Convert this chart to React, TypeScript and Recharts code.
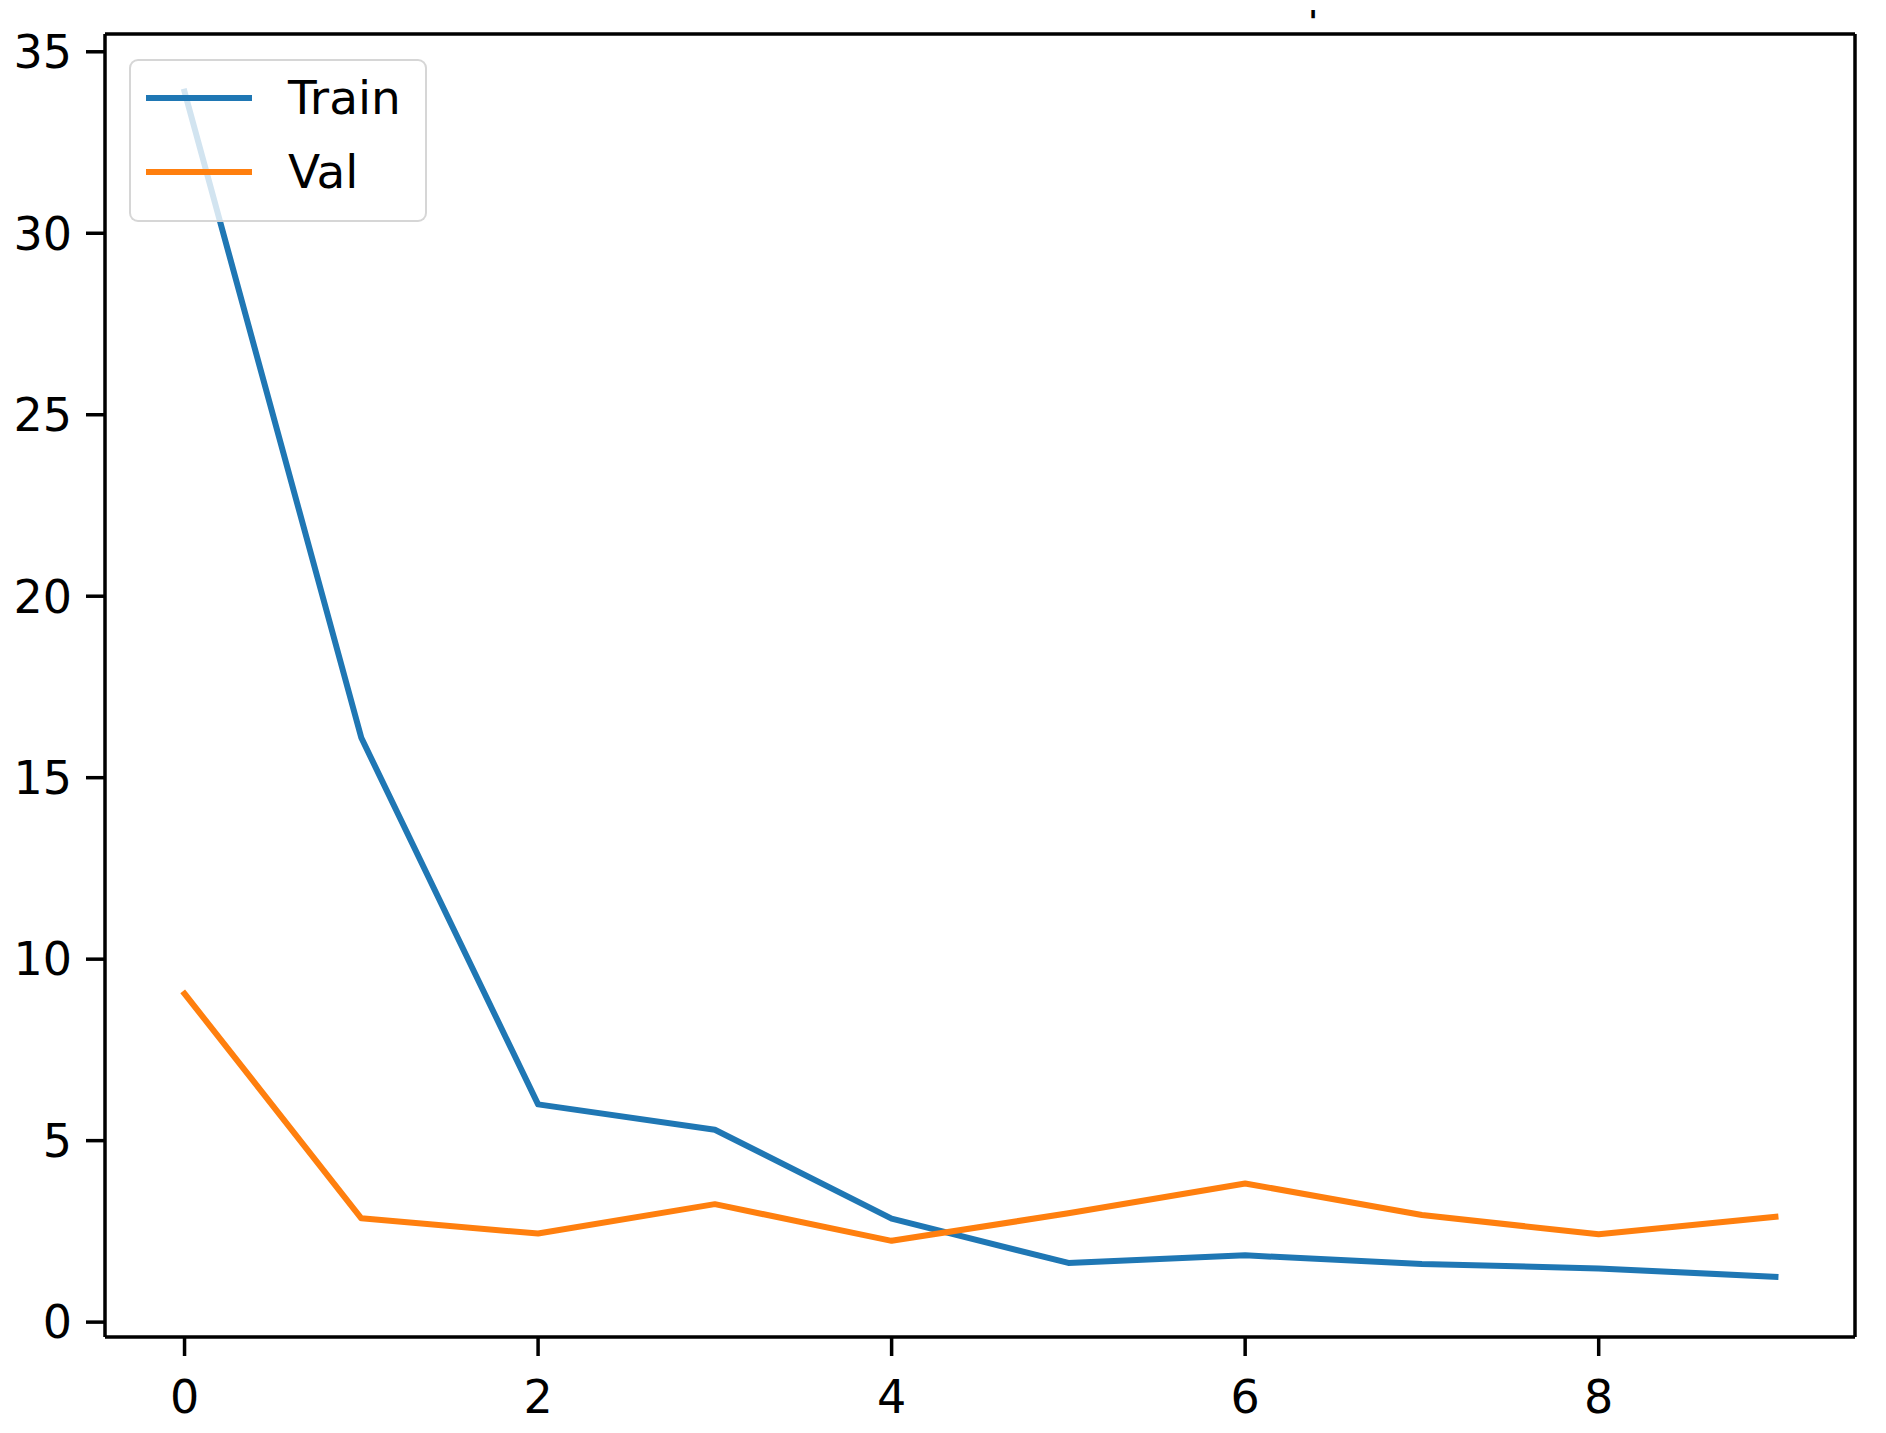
import { LineChart, Line, XAxis, YAxis, Legend, ReferenceLine } from "recharts";

const EPOCHS = [0, 1, 2, 3, 4, 5, 6, 7, 8, 9];
const TRAIN = [33.9, 16.1, 6.0, 5.3, 2.85, 1.63, 1.84, 1.6, 1.48, 1.25];
const VAL = [9.05, 2.86, 2.44, 3.25, 2.24, 3.0, 3.82, 2.95, 2.42, 2.9];
const X_TICKS = [0, 2, 4, 6, 8];
const Y_TICKS = [0, 5, 10, 15, 20, 25, 30, 35];
const X_DOMAIN = [-0.45, 9.45];
const Y_DOMAIN = [-0.41, 35.49];

const FONT = "'DejaVu Sans', sans-serif";
const BLUE = "#1f77b4";
const ORANGE = "#ff7f0e";

const data = EPOCHS.map((e, i) => ({ epoch: e, train: TRAIN[i], val: VAL[i] }));

const SERIES = [
  { key: "train", name: "Train", color: BLUE },
  { key: "val", name: "Val", color: ORANGE },
];

const renderLegend = () => (
  <div
    style={{
      width: 298,
      height: 163,
      boxSizing: "border-box",
      border: "2px solid rgba(204,204,204,0.8)",
      borderRadius: 9,
      background: "rgba(255,255,255,0.8)",
      position: "relative",
      fontFamily: FONT,
      fontSize: 47,
      color: "#000",
    }}
  >
    {SERIES.map((s, i) => (
      <div
        key={s.key}
        style={{ position: "absolute", left: 0, top: 37 + i * 74 - 30, height: 60, width: "100%" }}
      >
        <span
          style={{
            position: "absolute",
            left: 15,
            top: 27,
            width: 106,
            height: 6,
            background: s.color,
          }}
        />
        <span style={{ position: "absolute", left: 157, top: 0, lineHeight: "60px" }}>{s.name}</span>
      </div>
    ))}
  </div>
);

export default function App() {
  return (
    <div style={{ position: "absolute", left: 0, top: 0, width: 1886, height: 1433, background: "#fff" }}>
      {/* clipped title fragment at the top edge */}
      <div
        style={{
          position: "absolute",
          left: 1313,
          top: 7,
          transform: "translateX(-50%)",
          fontFamily: FONT,
          fontSize: 30,
          fontWeight: "bold",
          lineHeight: 1,
        }}
      >
        '
      </div>
      <LineChart
        width={1886}
        height={1433}
        data={data}
        margin={{ top: 34, right: 31, bottom: 0, left: 0 }}
      >
        <XAxis
          dataKey="epoch"
          type="number"
          domain={X_DOMAIN}
          allowDataOverflow
          ticks={X_TICKS}
          height={96}
          stroke="#000"
          axisLine={{ stroke: "#000", strokeWidth: 3.5 }}
          tickLine={{ stroke: "#000", strokeWidth: 3.5 }}
          tickSize={19}
          tickMargin={24}
          tick={{ fill: "#000", fontSize: 46, fontFamily: FONT }}
        />
        <YAxis
          type="number"
          domain={Y_DOMAIN}
          allowDataOverflow
          ticks={Y_TICKS}
          width={105}
          stroke="#000"
          axisLine={{ stroke: "#000", strokeWidth: 3.5 }}
          tickLine={{ stroke: "#000", strokeWidth: 3.5 }}
          tickSize={19}
          tickMargin={14}
          tick={{ fill: "#000", fontSize: 46, fontFamily: FONT }}
        />
        <ReferenceLine x={X_DOMAIN[1]} stroke="#000" strokeWidth={3.5} ifOverflow="extendDomain" />
        <ReferenceLine y={Y_DOMAIN[1]} stroke="#000" strokeWidth={3.5} ifOverflow="extendDomain" />
        {SERIES.map((s) => (
          <Line
            key={s.key}
            type="linear"
            dataKey={s.key}
            name={s.name}
            stroke={s.color}
            strokeWidth={6}
            strokeLinejoin="round"
            strokeLinecap="square"
            dot={false}
            activeDot={false}
            isAnimationActive={false}
          />
        ))}
        <Legend
          layout="horizontal"
          verticalAlign="middle"
          align="center"
          content={renderLegend}
          wrapperStyle={{ left: 129, top: 59, width: 298, height: 163 }}
        />
      </LineChart>
    </div>
  );
}
